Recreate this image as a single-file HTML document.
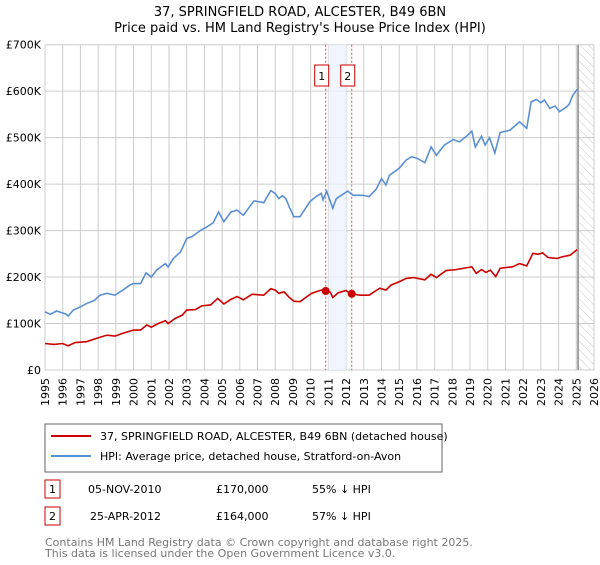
<!DOCTYPE html>
<html><head><meta charset="utf-8"><style>
body{margin:0;background:#fff;font-family:"Liberation Sans","DejaVu Sans",sans-serif;}
svg text{font-family:"DejaVu Sans","Liberation Sans",sans-serif;}
</style></head><body>
<svg id="chart" width="600" height="560" xmlns="http://www.w3.org/2000/svg">
<defs><pattern id="hatch" width="6" height="6" patternUnits="userSpaceOnUse" patternTransform="rotate(-45)"><line x1="0" y1="0" x2="0" y2="6" stroke="#ccc" stroke-width="1"/></pattern></defs>
<text x="300" y="16" text-anchor="middle" font-size="13">37, SPRINGFIELD ROAD, ALCESTER, B49 6BN</text>
<text x="300" y="32" text-anchor="middle" font-size="13">Price paid vs. HM Land Registry's House Price Index (HPI)</text>
<g id="grid"></g><g id="marks"></g><g id="series"></g><g id="axes"></g>
<rect x="45" y="424" width="397" height="48" fill="#fff" stroke="#666"/>
<line x1="51" y1="436" x2="91" y2="436" stroke="#cc0000" stroke-width="2"/>
<text x="100" y="440" font-size="11">37, SPRINGFIELD ROAD, ALCESTER, B49 6BN (detached house)</text>
<line x1="51" y1="456" x2="91" y2="456" stroke="#5b8fd4" stroke-width="2"/>
<text x="100" y="460" font-size="11">HPI: Average price, detached house, Stratford-on-Avon</text>
<g font-size="11">
<rect x="45" y="480" width="15" height="18" fill="#fff" stroke="#cc0000"/><text x="52.5" y="493" text-anchor="middle">1</text>
<text x="88" y="493">05-NOV-2010</text><text x="216" y="493">£170,000</text><text x="312" y="493">55% ↓ HPI</text></g>
<g font-size="11">
<rect x="45" y="507" width="15" height="18" fill="#fff" stroke="#cc0000"/><text x="52.5" y="520" text-anchor="middle">2</text>
<text x="90" y="520">25-APR-2012</text><text x="216" y="520">£164,000</text><text x="312" y="520">57% ↓ HPI</text></g>
<text x="45" y="546" font-size="11" fill="#777">Contains HM Land Registry data © Crown copyright and database right 2025.</text>
<text x="45" y="557" font-size="11" fill="#777">This data is licensed under the Open Government Licence v3.0.</text>
</svg>
<script>
const hpiYears=[1995,1995.3,1995.65,1996.2,1996.3,1996.6,1997,1997.35,1997.8,1998.1,1998.5,1998.95,1999.4,1999.8,2000,2000.4,2000.7,2001,2001.3,2001.8,2001.95,2002.25,2002.65,2003,2003.3,2003.8,2004.15,2004.5,2004.8,2005.1,2005.5,2005.85,2006.2,2006.8,2007.35,2007.75,2008,2008.2,2008.4,2008.6,2008.8,2009.05,2009.4,2009.95,2010.3,2010.6,2010.7,2010.9,2011.25,2011.45,2012.1,2012.4,2012.95,2013.3,2013.7,2014,2014.25,2014.45,2015,2015.4,2015.7,2016.05,2016.45,2016.8,2017.1,2017.55,2018.05,2018.4,2018.8,2019.1,2019.3,2019.65,2019.85,2020.1,2020.4,2020.7,2021.25,2021.8,2022.2,2022.45,2022.75,2023,2023.2,2023.5,2023.8,2024.05,2024.45,2024.6,2024.8,2025.05];
const hpiValues=[125,120,127,120,116,129,136,143,150,161,165,161,172,183,186,186,209,200,215,229,222,240,254,283,287,301,308,317,340,319,340,344,333,364,360,386,380,369,375,369,350,330,330,362,373,380,366,385,348,369,385,376,376,373,389,412,398,419,434,452,459,455,446,480,462,484,496,491,503,514,480,503,484,500,467,511,516,534,520,577,582,575,581,563,568,556,566,572,591,604];
const ppYears=[1995,1995.5,1996,1996.3,1996.7,1997.35,1997.9,1998.5,1998.95,1999.4,2000,2000.4,2000.75,2001,2001.4,2001.8,2001.95,2002.35,2002.75,2003,2003.5,2003.85,2004.35,2004.75,2005.1,2005.5,2005.85,2006.2,2006.7,2007.35,2007.75,2008,2008.2,2008.5,2008.8,2009.05,2009.4,2010.05,2010.3,2010.6,2010.85,2011.1,2011.25,2011.55,2012,2012.25,2012.8,2013.3,2013.9,2014.25,2014.55,2015,2015.4,2015.8,2016.45,2016.8,2017.1,2017.65,2018.2,2018.8,2019.1,2019.35,2019.65,2019.9,2020.15,2020.45,2020.7,2021.4,2021.8,2022.2,2022.55,2022.85,2023.1,2023.4,2023.9,2024.25,2024.65,2025.05];
const ppValues=[57,55,57,52,59,61,68,75,73,79,86,86,97,92,100,106,100,111,118,129,130,138,140,154,142,152,158,151,163,161,175,172,165,168,156,148,147,165,168,172,170,168,156,166,171,164,161,161,176,172,183,190,197,199,194,206,199,214,216,220,222,208,216,210,215,201,219,222,229,224,251,249,252,242,240,244,247,259];
const saleYears=[2010.85,2012.32];
const saleValues=[170,164];
const saleLabels=["1","2"];
const yTicks=[0,100,200,300,400,500,600,700];
const yTickLabels=["£0","£100K","£200K","£300K","£400K","£500K","£600K","£700K"];
const xTicks=[1995,1996,1997,1998,1999,2000,2001,2002,2003,2004,2005,2006,2007,2008,2009,2010,2011,2012,2013,2014,2015,2016,2017,2018,2019,2020,2021,2022,2023,2024,2025,2026];
const L=45,R=594,T=44.7,B=370;
const X=y=>L+(y-1995)*(R-L)/31;
const Y=v=>B-v*(B-T)/700;
const NS="http://www.w3.org/2000/svg";
function mk(parent,tag,attrs){const e=document.createElementNS(NS,tag);for(const k in attrs)e.setAttribute(k,attrs[k]);document.getElementById(parent).appendChild(e);return e;}
yTicks.forEach((t,i)=>{
 const g=mk('grid','line',{x1:L,x2:R,y1:Y(t),y2:Y(t),stroke:'#ccc'});
 
 
 const tx=mk('axes','text',{x:L-4,y:Y(t)+4,'text-anchor':'end','font-size':'11'});
 tx.textContent=yTickLabels[i];
 
 
});
xTicks.forEach(t=>{
 const g=mk('grid','line',{x1:X(t),x2:X(t),y1:T,y2:B,stroke:'#ccc'});
 
 
 const tx=mk('axes','text',{x:0,y:0,'text-anchor':'end','font-size':'11',transform:`translate(${X(t)+4},${B+8}) rotate(-90)`});
 tx.textContent=t;
 
 
});
const sh=mk('marks','rect',{x:X(2011),y:T,width:X(2012)-X(2011),height:B-T,fill:'#eef3fc',opacity:0.8});


const hz=mk('marks','rect',{x:X(2025.1),y:T,width:R-X(2025.1),height:B-T,fill:'url(#hatch)'});


const hl=mk('marks','line',{x1:X(2025.1),x2:X(2025.1),y1:T,y2:B,stroke:'#888','stroke-width':1.5});


saleYears.forEach((y,i)=>{
 const d=mk('marks','line',{x1:X(y),x2:X(y),y1:T,y2:B,stroke:'#e05050','stroke-dasharray':'2,2'});
 
 
 const b=mk('marks','rect',{x:X(y)-11,y:65,width:14,height:21,fill:'#fff',stroke:'#cc0000'});
 
 
 const bt=mk('marks','text',{x:X(y)-4,y:80,'text-anchor':'middle','font-size':'11'});
 bt.textContent=saleLabels[i];
 
 
});
const hp=mk('series','polyline',{points:hpiYears.map((y,i)=>X(y)+','+Y(hpiValues[i])).join(' '),fill:'none',stroke:'#5b8fd4','stroke-width':1.6});


const pp=mk('series','polyline',{points:ppYears.map((y,i)=>X(y)+','+Y(ppValues[i])).join(' '),fill:'none',stroke:'#cc0000','stroke-width':1.6});


saleYears.forEach((y,i)=>{
 const c=mk('series','circle',{cx:X(y),cy:Y(saleValues[i]),r:4,fill:'#cc0000'});
 
 
});
</script>
</body></html>
